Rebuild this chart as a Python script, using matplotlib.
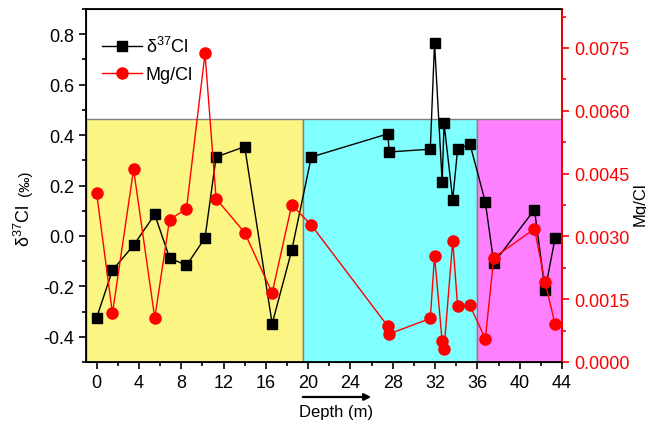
import matplotlib
matplotlib.use("Agg")
import matplotlib.pyplot as plt
from matplotlib.ticker import MultipleLocator
from matplotlib.patches import Rectangle, FancyArrowPatch

plt.rcParams['font.family'] = ['Liberation Sans', 'DejaVu Sans']

depth = [0, 1.5, 3.5, 5.5, 6.9, 8.5, 10.25, 11.3, 14.0, 16.6, 18.45, 20.3,
         27.55, 27.65, 31.55, 31.95, 32.67, 32.85, 33.67, 34.13, 35.3,
         36.75, 37.55, 41.4, 42.4, 43.35]
d37cl = [-0.325, -0.136, -0.037, 0.085, -0.087, -0.117, -0.008, 0.313, 0.354,
         -0.348, -0.057, 0.313, 0.405, 0.333, 0.344, 0.766, 0.214, 0.446,
         0.144, 0.344, 0.364, 0.135, -0.107, 0.104, -0.216, -0.008]
mgcl = [0.00404, 0.00116, 0.00460, 0.00105, 0.00340, 0.00366, 0.00737,
        0.00390, 0.00309, 0.00165, 0.00375, 0.00327, 0.00085, 0.00067,
        0.00104, 0.00254, 0.00049, 0.00031, 0.00290, 0.00133, 0.00135,
        0.00055, 0.00249, 0.00318, 0.00190, 0.00090]

# depth zones (x start, x end, colour), top of the boxes in left-axis units
zones = [(-1, 19.5, '#FBF583'), (19.5, 36, '#80FFFF'), (36, 44, '#FF80FF')]
zone_top = 0.463

d_label = 'δ$\\mathregular{^{37}}$Cl'
fs = 13

fig = plt.figure(figsize=(6.46, 4.27), dpi=100)
ax = fig.add_axes([86 / 646, 1 - 363 / 427, (562 - 86) / 646, (363 - 10) / 427])

for x0, x1, c in zones:
    ax.add_patch(Rectangle((x0, -0.5), x1 - x0, zone_top + 0.5, facecolor=c,
                           edgecolor='#808080', linewidth=1, zorder=0))

l1, = ax.plot(depth, d37cl, color='black', marker='s', markersize=6.5,
              linewidth=1.0, zorder=3)
ax.set_xlim(-1, 44)
ax.set_ylim(-0.5, 0.9)
ax.xaxis.set_major_locator(MultipleLocator(4))
ax.xaxis.set_minor_locator(MultipleLocator(2))
ax.yaxis.set_major_locator(MultipleLocator(0.2))
ax.yaxis.set_minor_locator(MultipleLocator(0.1))
ax.yaxis.set_major_formatter(plt.FuncFormatter(lambda v, p: f'{v:.1f}'))
ax.tick_params(which='both', direction='out', labelsize=fs, width=1.2)
ax.tick_params(which='major', length=5)
ax.tick_params(which='minor', length=3)
for s in ax.spines.values():
    s.set_linewidth(1.3)

ax2 = ax.twinx()
l2, = ax2.plot(depth, mgcl, color='red', marker='o', markersize=8,
               linewidth=1.0, zorder=3)
ax2.set_ylim(0, 0.00843)
ax2.yaxis.set_major_locator(MultipleLocator(0.0015))
ax2.yaxis.set_minor_locator(MultipleLocator(0.00075))
ax2.yaxis.set_major_formatter(plt.FuncFormatter(lambda v, p: f'{v:.4f}'))
ax2.tick_params(which='both', direction='out', labelsize=fs, width=1.2,
                colors='red')
ax2.tick_params(which='major', length=5)
ax2.tick_params(which='minor', length=3)
ax2.spines['right'].set_color('red')
ax2.spines['right'].set_linewidth(1.3)
ax2.set_ylabel('Mg/Cl', fontsize=12, color='black')
ax2.yaxis.set_label_coords(1.148, 0.45)

ax.text(-0.13, 0.39, d_label, fontsize=13, rotation=90,
        transform=ax.transAxes, ha='center', va='center')
ax.text(-0.128, 0.51, '(‰)', fontsize=11, rotation=90,
        transform=ax.transAxes, ha='center', va='center')

fig.text(336 / 646, 1 - 413 / 427, 'Depth (m)', fontsize=12,
         ha='center', va='center')
fig.patches.append(FancyArrowPatch(
    (300 / 646, 1 - 398 / 427), (374 / 646, 1 - 398 / 427),
    transform=fig.transFigure, arrowstyle='-|>', mutation_scale=10,
    linewidth=1.6, color='black'))

ax.legend([l1, l2], [d_label, 'Mg/Cl'], loc='upper left',
          bbox_to_anchor=(0.0, 0.97), frameon=False, fontsize=fs,
          handlelength=2.2, handletextpad=0.2, labelspacing=0.55)

fig.savefig('out.png', dpi=100)
